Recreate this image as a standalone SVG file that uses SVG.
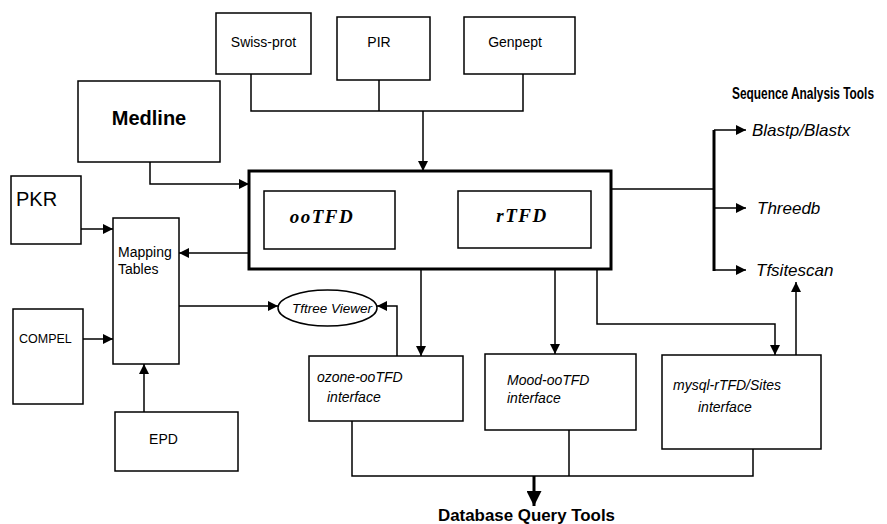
<svg xmlns="http://www.w3.org/2000/svg" width="887" height="524" viewBox="0 0 887 524">
<style>
.box{fill:#fff;stroke:#000;stroke-width:1.5}
.thick{fill:#fff;stroke:#000;stroke-width:3}
.ln{fill:none;stroke:#000;stroke-width:1.5}
.arr{fill:none;stroke:#000;stroke-width:1.5;marker-end:url(#ah)}
.t{font-family:"Liberation Sans",Arial,sans-serif;font-size:14px;fill:#000}
.it{font-family:"Liberation Sans",Arial,sans-serif;font-style:italic;font-size:14px;fill:#000}
.bi{font-family:"Liberation Serif","Times New Roman",serif;font-style:italic;font-weight:bold;font-size:19px;letter-spacing:1.5px;fill:#000}
.hd{font-family:"Liberation Sans",Arial,sans-serif;font-weight:bold;font-size:17px;fill:#000}
</style>
<defs>
<marker id="ah" viewBox="0 0 10 10" refX="10" refY="5" markerWidth="10" markerHeight="10" markerUnits="userSpaceOnUse" orient="auto">
<path d="M0,0 L10,5 L0,10 z" fill="#000"/>
</marker>
<marker id="ahb" viewBox="0 0 10 10" refX="10" refY="5" markerWidth="5" markerHeight="5" orient="auto">
<path d="M0,0 L10,5 L0,10 z" fill="#000"/>
</marker>
</defs>
<rect width="887" height="524" fill="#fff"/>
<g id="connectors">
<path class="ln" d="M251,74 V111 H523 V74 M379,80 V111"/>
<path class="arr" d="M423,111 V171"/>
<path class="arr" d="M150,162 V184 H249"/>
<path class="arr" d="M395,212 H458"/>
<path class="arr" d="M458,228 H395"/>
<path class="arr" d="M81,229 H113"/>
<path class="arr" d="M83,339 H113"/>
<path class="arr" d="M144,412 V364"/>
<path class="arr" d="M249,253 H179"/>
<path class="arr" d="M179,306 H278"/>
<path class="arr" d="M397,356 V306 H377"/>
<path class="arr" d="M421,269 V356"/>
<path class="arr" d="M555,269 V354"/>
<path class="arr" d="M597,269 V324 H775 V355"/>
<path class="arr" d="M796,355 V282"/>
<path class="ln" d="M611,189 H714"/>
<path class="ln" style="stroke-width:3" d="M714,130 V271"/>
<path class="arr" d="M714,130 H746"/>
<path class="arr" d="M714,208 H746"/>
<path class="arr" d="M714,270 H746"/>
<path class="ln" d="M352,421 V476 H753 V449 M569,430 V476"/>
<path d="M534,476 V506" fill="none" stroke="#000" stroke-width="3" marker-end="url(#ahb)"/>
</g>
<g id="swissprot"><rect class="box" x="216" y="13" width="95" height="61"/><text class="t" x="263.5" y="47" text-anchor="middle">Swiss-prot</text></g>
<g id="pir"><rect class="box" x="337" y="17" width="93" height="63"/><text class="t" x="379" y="47" text-anchor="middle">PIR</text></g>
<g id="genpept"><rect class="box" x="464" y="17" width="111" height="57"/><text class="t" x="515" y="47" text-anchor="middle">Genpept</text></g>
<g id="medline"><rect class="box" x="78" y="81" width="142" height="81"/><text class="t" x="149" y="125" text-anchor="middle" style="font-weight:bold;font-size:20px">Medline</text></g>
<g id="central"><rect class="thick" x="249" y="171" width="362" height="98"/></g>
<g id="ootfd"><rect class="box" x="264" y="191" width="131" height="58"/><text class="bi" x="322" y="223" text-anchor="middle">ooTFD</text></g>
<g id="rtfd"><rect class="box" x="458" y="191" width="133" height="57"/><text class="bi" x="522" y="222" text-anchor="middle">rTFD</text></g>
<g id="pkr"><rect class="box" x="11" y="176" width="70" height="68"/><text class="t" x="16" y="206" style="font-size:20px">PKR</text></g>
<g id="mapping"><rect class="box" x="113" y="218" width="66" height="146"/><text class="t" x="118" y="257">Mapping</text><text class="t" x="118" y="274">Tables</text></g>
<g id="compel"><rect class="box" x="13" y="309" width="70" height="95"/><text class="t" x="19" y="343" style="font-size:12.5px">COMPEL</text></g>
<g id="epd"><rect class="box" x="115" y="412" width="123" height="59"/><text class="t" x="163.5" y="444" text-anchor="middle">EPD</text></g>
<g id="tftree"><ellipse class="box" cx="327.5" cy="308" rx="49.5" ry="18"/><text class="it" x="292" y="313" style="font-size:13.5px">Tftree Viewer</text></g>
<g id="ozone"><rect class="box" x="309" y="356" width="154" height="65"/><text class="it" x="317" y="382">ozone-ooTFD</text><text class="it" x="327" y="402">interface</text></g>
<g id="mood"><rect class="box" x="485" y="354" width="151" height="76"/><text class="it" x="507" y="385">Mood-ooTFD</text><text class="it" x="507" y="403">interface</text></g>
<g id="mysql"><rect class="box" x="662" y="355" width="159" height="94"/><text class="it" x="673" y="390">mysql-rTFD/Sites</text><text class="it" x="698" y="412">interface</text></g>
<g id="seqtools"><text class="hd" transform="translate(732,99) scale(0.7,1)" x="0" y="0">Sequence Analysis Tools</text>
<text class="it" x="752" y="136" style="font-size:17px">Blastp/Blastx</text>
<text class="it" x="757" y="214" style="font-size:17px">Threedb</text>
<text class="it" x="756" y="276" style="font-size:17px">Tfsitescan</text></g>
<g id="dbtools"><text class="hd" x="438" y="521" textLength="177" lengthAdjust="spacingAndGlyphs">Database Query Tools</text></g>
</svg>
